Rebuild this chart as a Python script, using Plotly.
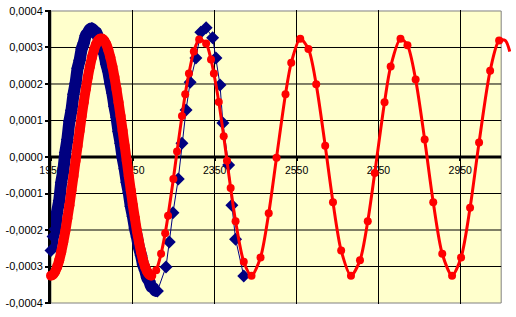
import plotly.graph_objects as go

# ---------------- data ----------------
blue_dense_x = [1950, 1955, 1960, 1965, 1970, 1975, 1980, 1985, 1990, 1995,
                2000, 2005, 2010, 2015, 2020, 2025, 2030, 2035, 2040, 2045,
                2050, 2055, 2060, 2065, 2070, 2075, 2080, 2085, 2090, 2095,
                2100, 2105, 2110, 2115, 2120, 2125, 2130, 2135, 2140, 2145,
                2150, 2155, 2160, 2165, 2170, 2175, 2180, 2185, 2190, 2195,
                2200, 2205, 2210]
blue_dense_y = [-0.000256, -0.000218, -0.000198, -0.000150, -0.000120, -0.000070, -0.000038, 0.000012, 0.000048, 0.000098,
                0.000128, 0.000172, 0.000202, 0.000243, 0.000265, 0.000296, 0.000312, 0.000333, 0.000340, 0.000350,
                0.000352, 0.000346, 0.000342, 0.000329, 0.000319, 0.000299, 0.000283, 0.000255, 0.000234, 0.000202,
                0.000175, 0.000139, 0.000109, 0.000070, 0.000038, -0.000002, -0.000032, -0.000069, -0.000098, -0.000135,
                -0.000162, -0.000195, -0.000219, -0.000249, -0.000269, -0.000295, -0.000310, -0.000331, -0.000340, -0.000355,
                -0.000359, -0.000366, -0.000367]

blue_sparse_x = [2231, 2239, 2248, 2261, 2270, 2280, 2290, 2304, 2316, 2329,
                 2345, 2353, 2363, 2370, 2384, 2392, 2401, 2421]
blue_sparse_y = [-0.000301, -0.000233, -0.000153, -0.000060, 0.000038, 0.000129, 0.000205, 0.000271, 0.000342, 0.000354,
                 0.000327, 0.000271, 0.000197, 0.000093, -0.000022, -0.000132, -0.000225, -0.000326]

red_dense_x = [1950, 1955, 1960, 1965, 1970, 1975, 1980, 1985, 1990, 1995,
               2000, 2005, 2010, 2015, 2020, 2025, 2030, 2035, 2040, 2045,
               2050, 2055, 2060, 2065, 2070, 2075, 2080, 2085, 2090, 2095,
               2100, 2105, 2110, 2115, 2120, 2125, 2130, 2135, 2140, 2145,
               2150, 2155, 2160, 2165, 2170, 2175, 2180, 2185, 2190, 2195]
red_dense_y = [-0.000325, -0.000322, -0.000314, -0.000301, -0.000283, -0.000260, -0.000233, -0.000203, -0.000168, -0.000132,
               -0.000092, -0.000052, -0.000010, 0.000031, 0.000072, 0.000112, 0.000150, 0.000186, 0.000219, 0.000248,
               0.000273, 0.000293, 0.000309, 0.000319, 0.000324, 0.000324, 0.000319, 0.000309, 0.000293, 0.000273,
               0.000248, 0.000219, 0.000186, 0.000150, 0.000112, 0.000072, 0.000031, -0.000010, -0.000052, -0.000092,
               -0.000132, -0.000168, -0.000203, -0.000233, -0.000260, -0.000283, -0.000301, -0.000314, -0.000322, -0.000325]

red_sparse_x = [2207, 2219, 2229, 2236, 2249, 2258, 2270, 2278, 2287, 2299,
                2312, 2329, 2341, 2348, 2360, 2372, 2380, 2389, 2401, 2421,
                2440, 2462, 2482, 2501, 2523, 2537, 2559, 2579, 2598, 2620,
                2639, 2659, 2683, 2705, 2724, 2741, 2765, 2780, 2804, 2821,
                2841, 2863, 2884, 2906, 2930, 2952, 2974, 2996, 3023, 3045]
red_sparse_y = [-0.000310, -0.000265, -0.000209, -0.000161, -0.000060, 0.000015, 0.000112, 0.000172, 0.000229, 0.000289,
                0.000322, 0.000311, 0.000267, 0.000229, 0.000151, 0.000057, -0.000010, -0.000085, -0.000176, -0.000287,
                -0.000325, -0.000275, -0.000154, -0.000002, 0.000172, 0.000258, 0.000324, 0.000296, 0.000199, 0.000031,
                -0.000124, -0.000256, -0.000325, -0.000283, -0.000176, -0.000044, 0.000150, 0.000248, 0.000324, 0.000306,
                0.000212, 0.000048, -0.000124, -0.000265, -0.000325, -0.000275, -0.000139, 0.000040, 0.000236, 0.000319]

red_tail_x = [3060, 3071]
red_tail_y = [0.000319, 0.000289]

x_ticks = [1950, 2150, 2350, 2550, 2750, 2950]
x_tick_labels = ["1950", "2150", "2350", "2550", "2750", "2950"]
y_ticks = [-0.0004, -0.0003, -0.0002, -0.0001, 0.0, 0.0001, 0.0002, 0.0003, 0.0004]
y_tick_labels = ["-0,0004", "-0,0003", "-0,0002", "-0,0001", "0,0000",
                 "0,0001", "0,0002", "0,0003", "0,0004"]

# ---------------- styles ----------------
NAVY = "#000080"
RED = "#FF0000"
X_MIN, X_MAX_AREA, X_MAX_VIEW = 1950, 3050, 3074
Y_LIM = 0.0004
Y_PAD = 0.0000027

fig = go.Figure()

# blue dense band (many overlapping diamonds in the original)
fig.add_trace(go.Scatter(
    x=blue_dense_x, y=blue_dense_y, mode="lines",
    line=dict(color=NAVY, width=12, shape="spline", smoothing=0.6),
    hoverinfo="skip"))
blue_x = blue_dense_x + blue_sparse_x
blue_y = blue_dense_y + blue_sparse_y
fig.add_trace(go.Scatter(
    x=blue_x, y=blue_y, mode="lines+markers",
    line=dict(color=NAVY, width=1),
    marker=dict(symbol="diamond", size=10, color=NAVY, line=dict(width=0)),
    cliponaxis=False, hoverinfo="skip"))

red_all_x = red_dense_x + red_sparse_x + red_tail_x
red_all_y = red_dense_y + red_sparse_y + red_tail_y
fig.add_trace(go.Scatter(
    x=red_all_x, y=red_all_y, mode="lines",
    line=dict(color=RED, width=3, shape="spline", smoothing=0.8),
    hoverinfo="skip"))
# red dense band
fig.add_trace(go.Scatter(
    x=red_dense_x, y=red_dense_y, mode="lines+markers",
    line=dict(color=RED, width=10, shape="spline", smoothing=0.6),
    marker=dict(symbol="circle", size=10, color=RED, line=dict(width=0)),
    cliponaxis=False, hoverinfo="skip"))
fig.add_trace(go.Scatter(
    x=red_sparse_x, y=red_sparse_y, mode="markers",
    marker=dict(symbol="circle", size=8, color=RED, line=dict(width=0)),
    cliponaxis=False, hoverinfo="skip"))

shapes = [dict(type="rect", xref="x", yref="y", x0=X_MIN, x1=X_MAX_AREA, y0=-Y_LIM, y1=Y_LIM,
               fillcolor="#FFFFCC", line=dict(color="#808080", width=1), layer="below")]
for v in y_ticks:
    if abs(v) < 1e-12 or abs(abs(v) - Y_LIM) < 1e-12:
        continue
    shapes.append(dict(type="line", xref="x", yref="y", x0=X_MIN, x1=X_MAX_AREA, y0=v, y1=v,
                       line=dict(color="black", width=1), layer="below"))
shapes.append(dict(type="line", xref="x", yref="y", x0=X_MIN, x1=X_MAX_AREA, y0=0, y1=0,
                   line=dict(color="black", width=3), layer="below"))

fig.update_layout(
    width=516, height=317,
    margin=dict(l=45, r=5, t=10, b=13),
    plot_bgcolor="white", paper_bgcolor="white",
    showlegend=False,
    font=dict(family="Liberation Sans, Arial, sans-serif", size=11, color="black"),
    shapes=shapes,
    xaxis=dict(range=[X_MIN, X_MAX_VIEW], tickmode="array", tickvals=x_ticks, ticktext=x_tick_labels,
               showgrid=True, gridcolor="black", gridwidth=1, zeroline=False, showline=False,
               anchor="free", position=0.5, ticks="outside", ticklen=3, tickwidth=2, tickcolor="black",
               tickfont=dict(size=10.5), layer="below traces"),
    yaxis=dict(range=[-Y_LIM - Y_PAD, Y_LIM + Y_PAD], tickmode="array", tickvals=y_ticks, ticktext=y_tick_labels,
               showgrid=False, zeroline=False, showline=True, linewidth=3, linecolor="black",
               ticks="outside", ticklen=3, tickwidth=2, tickcolor="black",
               tickfont=dict(size=11), layer="below traces"),
)

fig.write_html("out.html")
